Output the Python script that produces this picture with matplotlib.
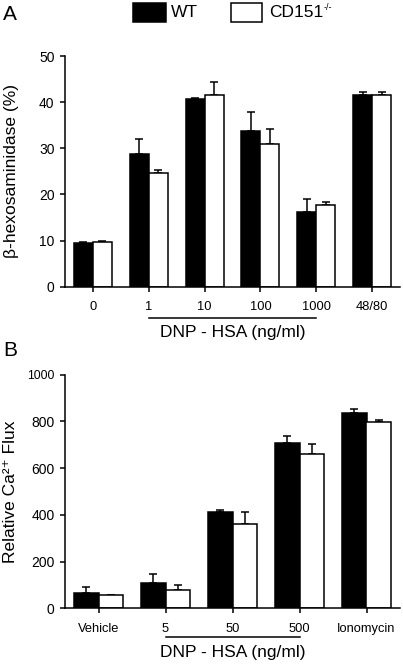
import matplotlib
matplotlib.use("Agg")
import matplotlib.pyplot as plt
import numpy as np
from matplotlib.patches import Rectangle
from matplotlib.transforms import blended_transform_factory

plt.rcParams['font.family'] = ['Liberation Sans', 'DejaVu Sans']

# ---- Panel A data ----
a_cats = ["0", "1", "10", "100", "1000", "48/80"]
a_wt = [9.5, 28.7, 40.6, 33.8, 16.2, 41.5]
a_wt_err = [9.6, 32.0, 40.9, 37.9, 18.9, 42.2]
a_ko = [9.6, 24.7, 41.5, 30.9, 17.7, 41.5]
a_ko_err = [9.9, 25.3, 44.4, 34.1, 18.4, 42.2]
a_yticks = [0, 10, 20, 30, 40, 50]

# ---- Panel B data ----
b_cats = ["Vehicle", "5", "50", "500", "Ionomycin"]
b_wt = [64, 110, 414, 709, 835]
b_wt_err = [92, 146, 421, 738, 852]
b_ko = [57, 78, 360, 661, 795]
b_ko_err = [58, 100, 411, 702, 806]
b_yticks = [0, 200, 400, 600, 800, 1000]

legend_labels = ["WT", "CD151"]
legend_sup = "-/-"

W, H = 403, 666
fig = plt.figure(figsize=(W / 100, H / 100), dpi=100)

LW = 1.1


def style(ax):
    for s in ["top", "right"]:
        ax.spines[s].set_visible(False)
    for s in ["left", "bottom"]:
        ax.spines[s].set_linewidth(LW)
    ax.tick_params(direction="out", length=3.6, width=LW)
    ax.tick_params(axis="y", labelsize=10, pad=4)
    ax.tick_params(axis="x", labelsize=9.3, pad=7)


def draw(ax, cats, wt, wt_err, ko, ko_err, bw):
    x = np.arange(len(cats))
    wt = np.array(wt, float)
    ko = np.array(ko, float)
    ax.bar(x - bw / 2, wt, bw, color="black", edgecolor="black", linewidth=LW, zorder=2)
    ax.bar(x + bw / 2, ko, bw, color="white", edgecolor="black", linewidth=LW, zorder=2)
    ax.errorbar(x - bw / 2, wt, yerr=[np.zeros_like(wt), np.array(wt_err) - wt],
                fmt="none", ecolor="black", elinewidth=LW, capsize=3, capthick=LW, zorder=1)
    ax.errorbar(x + bw / 2, ko, yerr=[np.zeros_like(ko), np.array(ko_err) - ko],
                fmt="none", ecolor="black", elinewidth=LW, capsize=3, capthick=LW, zorder=1)
    ax.set_xticks(x)
    ax.set_xticklabels(cats)
    ax.set_xlim(-0.5, len(cats) - 0.5)


# Panel A
axA = fig.add_axes([65 / W, 1 - 286.7 / H, 335 / W, (286.7 - 56) / H])
draw(axA, a_cats, a_wt, a_wt_err, a_ko, a_ko_err, 0.34)
axA.set_ylim(0, 50)
axA.set_yticks(a_yticks)
style(axA)
axA.set_ylabel("β-hexosaminidase (%)", fontsize=12.5)
axA.yaxis.set_label_coords((19 - 65) / 335, 0.5)

trA = blended_transform_factory(axA.transData, fig.transFigure)
fig.add_artist(plt.Line2D([1, 4], [1 - 318 / H, 1 - 318 / H], transform=trA,
                          color="black", linewidth=LW))
fig.text(2.5, 1 - 333 / H, "DNP - HSA (ng/ml)", transform=trA, ha="center",
         va="center", fontsize=12.5)

# Panel B
axB = fig.add_axes([65 / W, 1 - 608.3 / H, 335 / W, (608.3 - 374.5) / H])
draw(axB, b_cats, b_wt, b_wt_err, b_ko, b_ko_err, 0.36)
axB.set_ylim(0, 1000)
axB.set_yticks(b_yticks)
style(axB)
axB.get_yticklabels()[-1].set_fontsize(8.7)
axB.set_ylabel("Relative Ca²⁺ Flux", fontsize=12.5)
axB.yaxis.set_label_coords((18 - 65) / 335, 0.5)

trB = blended_transform_factory(axB.transData, fig.transFigure)
fig.add_artist(plt.Line2D([1, 3], [1 - 637 / H, 1 - 637 / H], transform=trB,
                          color="black", linewidth=LW))
fig.text(2, 1 - 653 / H, "DNP - HSA (ng/ml)", transform=trB, ha="center",
         va="center", fontsize=12.5)

# Panel letters
fig.text(3 / W, 1 - 14.5 / H, "A", fontsize=15, va="center", ha="left")
fig.text(3 / W, 1 - 351 / H, "B", fontsize=15, va="center", ha="left")

# Legend
fig.add_artist(Rectangle((133 / W, 1 - 21.5 / H), 33 / W, 18.5 / H, transform=fig.transFigure,
                         facecolor="black", edgecolor="black", linewidth=LW))
fig.text(171 / W, 1 - 12.5 / H, legend_labels[0], fontsize=12.5, va="center", ha="left")
fig.add_artist(Rectangle((231 / W, 1 - 21.5 / H), 31 / W, 18.5 / H, transform=fig.transFigure,
                         facecolor="white", edgecolor="black", linewidth=LW))
fig.text(269 / W, 1 - 12.5 / H, legend_labels[1], fontsize=12.5, va="center", ha="left")
fig.text(324 / W, 1 - 8 / H, legend_sup, fontsize=6.5, va="center", ha="left")

fig.savefig("out.png", dpi=100)
